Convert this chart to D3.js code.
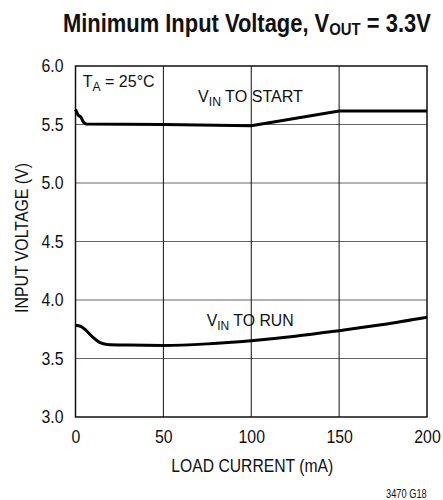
<!DOCTYPE html>
<html>
<head>
<meta charset="utf-8">
<script src="https://cdn.jsdelivr.net/npm/d3@7"></script>
<style>
  body { margin: 0; background: #fff; }
  svg text { font-family: "Liberation Sans", Arial, sans-serif; fill: #111; }
</style>
</head>
<body>
<div id="chart"></div>
<script>
// load current (mA) and minimum input voltage (V)
var startCurrent = [0, 1.5, 3, 4.5, 6, 50, 100, 150, 200];
var startVoltage = [5.63, 5.58, 5.565, 5.52, 5.505, 5.50, 5.49, 5.615, 5.615];

var runCurrent = [0, 3, 6, 10, 14, 18, 30, 50, 75, 100, 125, 150, 175, 200];
var runVoltage = [3.785, 3.775, 3.74, 3.68, 3.635, 3.62, 3.615, 3.612, 3.625, 3.652, 3.69, 3.738, 3.79, 3.852];

var xTicks = [0, 50, 100, 150, 200];
var yTicks = [3.0, 3.5, 4.0, 4.5, 5.0, 5.5, 6.0];

var W = 443, H = 500;
var m = { left: 75.5, right: 16, top: 66, bottom: 83 };

var svg = d3.select("#chart").append("svg")
    .attr("width", W)
    .attr("height", H);

var x = d3.scaleLinear().domain([0, 200]).range([m.left, W - m.right]);
var y = d3.scaleLinear().domain([3, 6]).range([H - m.bottom, m.top]);

// grid lines
svg.append("g").selectAll("line").data(yTicks.slice(1, -1)).enter()
    .append("line")
    .attr("x1", x(0)).attr("x2", x(200))
    .attr("y1", function (d) { return y(d); })
    .attr("y2", function (d) { return y(d); })
    .attr("stroke", "#666").attr("stroke-width", 1);

svg.append("g").selectAll("line").data(xTicks.slice(1, -1)).enter()
    .append("line")
    .attr("y1", y(3)).attr("y2", y(6))
    .attr("x1", function (d) { return x(d); })
    .attr("x2", function (d) { return x(d); })
    .attr("stroke", "#111").attr("stroke-width", 1);

// frame
svg.append("rect")
    .attr("x", x(0)).attr("y", y(6))
    .attr("width", x(200) - x(0)).attr("height", y(3) - y(6))
    .attr("fill", "none").attr("stroke", "#111").attr("stroke-width", 1.5);

// axes (labels only, frame drawn above) - squeeze glyphs to look condensed
var xAxis = svg.append("g")
    .attr("transform", "translate(0," + y(3) + ")")
    .call(d3.axisBottom(x).tickValues(xTicks).tickSize(0).tickPadding(13));
var yAxis = svg.append("g")
    .attr("transform", "translate(" + x(0) + ",0)")
    .call(d3.axisLeft(y).tickValues(yTicks).tickFormat(d3.format(".1f")).tickSize(0));
[xAxis, yAxis].forEach(function (a) {
    a.select(".domain").remove();
    a.selectAll("text").attr("font-size", 18).attr("fill", "#111")
        .style("font-family", '"Liberation Sans", Arial, sans-serif');
});
xAxis.selectAll("text").attr("transform", "scale(0.88,1)");
yAxis.selectAll("text").attr("x", 0).attr("transform", "translate(-12,0) scale(0.88,1)");

// curves
var line = d3.line()
    .x(function (d) { return x(d[0]); })
    .y(function (d) { return y(d[1]); });

svg.append("path")
    .datum(d3.zip(startCurrent, startVoltage))
    .attr("d", line.curve(d3.curveLinear))
    .attr("fill", "none").attr("stroke", "#000").attr("stroke-width", 3);

svg.append("path")
    .datum(d3.zip(runCurrent, runVoltage))
    .attr("d", line.curve(d3.curveMonotoneX))
    .attr("fill", "none").attr("stroke", "#000").attr("stroke-width", 3);

// text squeezed horizontally to a given width (condensed face look-alike)
function fitText(px, py, width, size, parts, opts) {
    opts = opts || {};
    var g = svg.append("g")
        .attr("transform", "translate(" + px + "," + py + ")" + (opts.rotate ? " rotate(" + opts.rotate + ")" : ""));
    var t = g.append("text")
        .attr("font-size", size)
        .attr("font-weight", opts.weight || "normal")
        .attr("text-anchor", opts.anchor || "start");
    var shift = 0;
    parts.forEach(function (p) {
        var s = t.append("tspan").text(p[0]);
        var want = p[1] ? p[1].dy : 0;
        if (p[1]) s.attr("font-size", p[1].size);
        if (want !== shift) { s.attr("dy", want - shift); shift = want; }
    });
    var w = t.node().getComputedTextLength();
    t.attr("transform", "scale(" + (width / w) + ",1)");
    return t;
}

// title
fitText(63, 31.7, 368, 25, [
    ["Minimum Input Voltage, V"],
    ["OUT", { size: 17, dy: 3.5 }],
    [" = 3.3V"]
], { weight: "bold" });

// axis titles
fitText((x(0) + x(200)) / 2 + 1, 471.7, 162, 18, [["LOAD CURRENT (mA)"]], { anchor: "middle" });
fitText(28, 238, 150, 18, [["INPUT VOLTAGE (V)"]], { anchor: "middle", rotate: -90 });

// annotations
fitText(82.7, 86.7, 72, 16.5, [["T"], ["A", { size: 12.5, dy: 4 }], [" = 25°C"]]);
fitText(198, 101.7, 105, 16.5, [["V"], ["IN", { size: 12.5, dy: 4 }], [" TO START"]]);
fitText(206.7, 326, 87, 16.5, [["V"], ["IN", { size: 12.5, dy: 4 }], [" TO RUN"]]);

fitText(426.7, 498, 40.7, 12, [["3470 G18"]], { anchor: "end" });
</script>
</body>
</html>
